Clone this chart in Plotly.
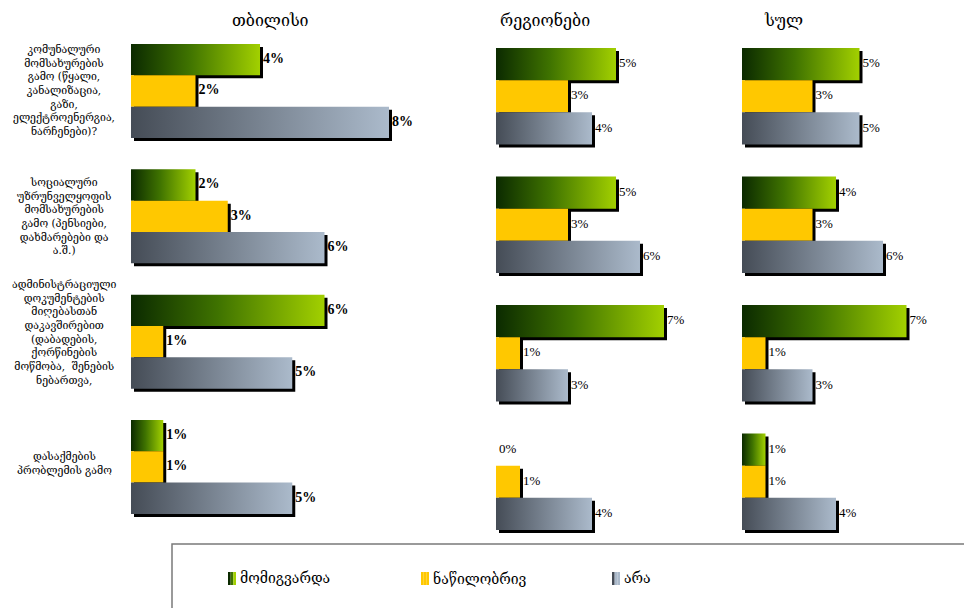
import plotly.graph_objects as go

W, H = 964, 608

# ---- data -------------------------------------------------------------
panel_titles = ["თბილისი", "რეგიონები", "სულ"]
series_names = ["მომიგვარდა", "ნაწილობრივ", "არა"]
categories = [
    "კომუნალური<br>მომსახურების<br>გამო (წყალი,<br>კანალიზაცია,<br>გაზი,<br>ელექტროენერგია,<br>ნარჩენები)?",
    "სოციალური<br>უზრუნველყოფის<br>მომსახურების<br>გამო (პენსიები,<br>დახმარებები და<br>ა.შ.)",
    "ადმინისტრაციული<br>დოკუმენტების<br>მიღებასთან<br>დაკავშირებით<br>(დაბადების,<br>ქორწინების<br>მოწმობა,  შენების<br>ნებართვა,",
    "დასაქმების<br>პრობლემის გამო",
]

tbilisi_resolved = [4, 2, 6, 1]
tbilisi_partly = [2, 3, 1, 1]
tbilisi_no = [8, 6, 5, 5]

regions_resolved = [5, 5, 7, 0]
regions_partly = [3, 3, 1, 1]
regions_no = [4, 6, 3, 4]

total_resolved = [5, 4, 7, 1]
total_partly = [3, 3, 1, 1]
total_no = [5, 6, 3, 4]

# ---- styling ----------------------------------------------------------
GREEN_SCALE = [[0, "#0b2a00"], [0.45, "#3f7300"], [1, "#a2d000"]]
GREY_SCALE = [[0, "#454c56"], [1, "#abbacb"]]
YELLOW = "#ffc800"
SERIF = "Liberation Serif, DejaVu Serif, serif"
GEO = "DejaVu Serif, DejaVu Sans, sans-serif"

# panel geometry in pixels: bar origin, px per percent, top of first bar, px per bar row
panels = [
    dict(title=panel_titles[0], data=[tbilisi_resolved, tbilisi_partly, tbilisi_no],
         base=131, ppx=32.25, top=44, ppy=31.33, xmax=8.8, bold=True, title_x=270),
    dict(title=panel_titles[1], data=[regions_resolved, regions_partly, regions_no],
         base=496, ppx=24.0, top=48, ppy=32.13, xmax=8.0, bold=False, title_x=545),
    dict(title=panel_titles[2], data=[total_resolved, total_partly, total_no],
         base=742, ppx=23.5, top=48, ppy=32.13, xmax=9.0, bold=False, title_x=783),
]

XMIN, YMIN, YMAX = -0.3, -0.3, 15.4
GROUP = 4  # rows per category: three bars + gap
LABEL_SHIFT = [0, 0, 9, 3]  # vertical nudge of the category captions (px)

fig = go.Figure()
layout_update = {}


def rect(x0, x1, y0, y1):
    return [x0, x1, x1, x0, x0], [y0, y0, y1, y1, y0]


for p, panel in enumerate(panels, start=1):
    sfx = "" if p == 1 else str(p)
    xa, ya = "x" + sfx, "y" + sfx
    dx = 3.0 / panel["ppx"]
    dy = 3.0 / panel["ppy"]

    # drop shadows under every bar
    sx, sy = [], []
    for j, vals in enumerate(panel["data"]):
        for i, v in enumerate(vals):
            y0 = GROUP * i + j
            px, py = rect(dx, v + dx, y0 + dy, y0 + 1 + dy)
            sx += px + [None]
            sy += py + [None]
    fig.add_trace(go.Scatter(x=sx, y=sy, mode="lines", fill="toself", fillcolor="#000000",
                             line=dict(width=0, color="#000000"), xaxis=xa, yaxis=ya,
                             hoverinfo="skip", showlegend=False))

    # bars
    for j, vals in enumerate(panel["data"]):
        if j == 1:
            bx, by = [], []
            for i, v in enumerate(vals):
                px, py = rect(0, v, GROUP * i + j, GROUP * i + j + 1)
                bx += px + [None]
                by += py + [None]
            fig.add_trace(go.Scatter(x=bx, y=by, mode="lines", fill="toself", fillcolor=YELLOW,
                                     line=dict(width=0, color=YELLOW), xaxis=xa, yaxis=ya,
                                     name=series_names[j], hoverinfo="skip", showlegend=False))
        else:
            scale = GREEN_SCALE if j == 0 else GREY_SCALE
            for i, v in enumerate(vals):
                px, py = rect(0, v, GROUP * i + j, GROUP * i + j + 1)
                fig.add_trace(go.Scatter(x=px, y=py, mode="lines", fill="toself",
                                         fillgradient=dict(type="horizontal", colorscale=scale),
                                         line=dict(width=0, color=scale[-1][1]),
                                         xaxis=xa, yaxis=ya, name=series_names[j],
                                         hoverinfo="skip", showlegend=False))

    # value labels
    tx, ty, tt = [], [], []
    for j, vals in enumerate(panel["data"]):
        for i, v in enumerate(vals):
            tx.append(v + dx)
            ty.append(GROUP * i + j + 0.5)
            tt.append(f"{v}%")
    fig.add_trace(go.Scatter(x=tx, y=ty, text=tt, mode="text", textposition="middle right",
                             textfont=dict(family=SERIF, size=14 if panel["bold"] else 13,
                                           color="#000000",
                                           weight="bold" if panel["bold"] else "normal"),
                             cliponaxis=False, xaxis=xa, yaxis=ya,
                             hoverinfo="skip", showlegend=False))

    left = panel["base"] + XMIN * panel["ppx"]
    right = panel["base"] + panel["xmax"] * panel["ppx"]
    top = panel["top"] + YMIN * panel["ppy"]
    bottom = panel["top"] + YMAX * panel["ppy"]
    layout_update["xaxis" + sfx] = dict(domain=[left / W, right / W], range=[XMIN, panel["xmax"]],
                                        visible=False, anchor=ya, fixedrange=True)
    layout_update["yaxis" + sfx] = dict(domain=[1 - bottom / H, 1 - top / H], range=[YMAX, YMIN],
                                        visible=False, anchor=xa, fixedrange=True)

annotations = []
for panel in panels:
    annotations.append(dict(text=panel["title"], x=panel["title_x"] / W, y=1 - 20 / H,
                            xref="paper", yref="paper", xanchor="center", yanchor="middle",
                            showarrow=False, font=dict(family=GEO, size=16, color="#000000")))

for i, cat in enumerate(categories):
    annotations.append(dict(text=cat, x=64 / W, y=GROUP * i + 1.5, xref="paper", yref="y",
                            xanchor="center", yanchor="middle", align="center", showarrow=False,
                            yshift=LABEL_SHIFT[i],
                            font=dict(family=GEO, size=10.5, color="#000000")))

# legend frame and entries
shapes = [dict(type="rect", xref="paper", yref="paper", x0=172 / W, x1=1.02, y0=-0.05,
               y1=1 - 544 / H, line=dict(color="#7a7a7a", width=1.5), fillcolor="rgba(0,0,0,0)")]
legend_items = [
    (228, [c for _, c in GREEN_SCALE]),
    (421, [YELLOW, YELLOW, YELLOW]),
    (612, [c for _, c in GREY_SCALE] + [GREY_SCALE[-1][1]]),
]
for (lx, cols), name in zip(legend_items, series_names):
    strip = 8 / len(cols)
    for k, c in enumerate(cols):
        shapes.append(dict(type="rect", xref="paper", yref="paper",
                           x0=(lx + k * strip) / W, x1=(lx + (k + 1) * strip) / W,
                           y0=1 - 585 / H, y1=1 - 572 / H, line=dict(width=0), fillcolor=c))
    annotations.append(dict(text=name, x=(lx + 10) / W, y=1 - 578 / H, xref="paper", yref="paper",
                            xanchor="left", yanchor="middle", showarrow=False,
                            font=dict(family=GEO, size=14, color="#000000")))

fig.update_layout(
    width=W, height=H,
    margin=dict(l=0, r=0, t=0, b=0),
    paper_bgcolor="#ffffff", plot_bgcolor="rgba(0,0,0,0)",
    showlegend=False,
    annotations=annotations,
    shapes=shapes,
    **layout_update,
)

fig.write_html("out.html")
